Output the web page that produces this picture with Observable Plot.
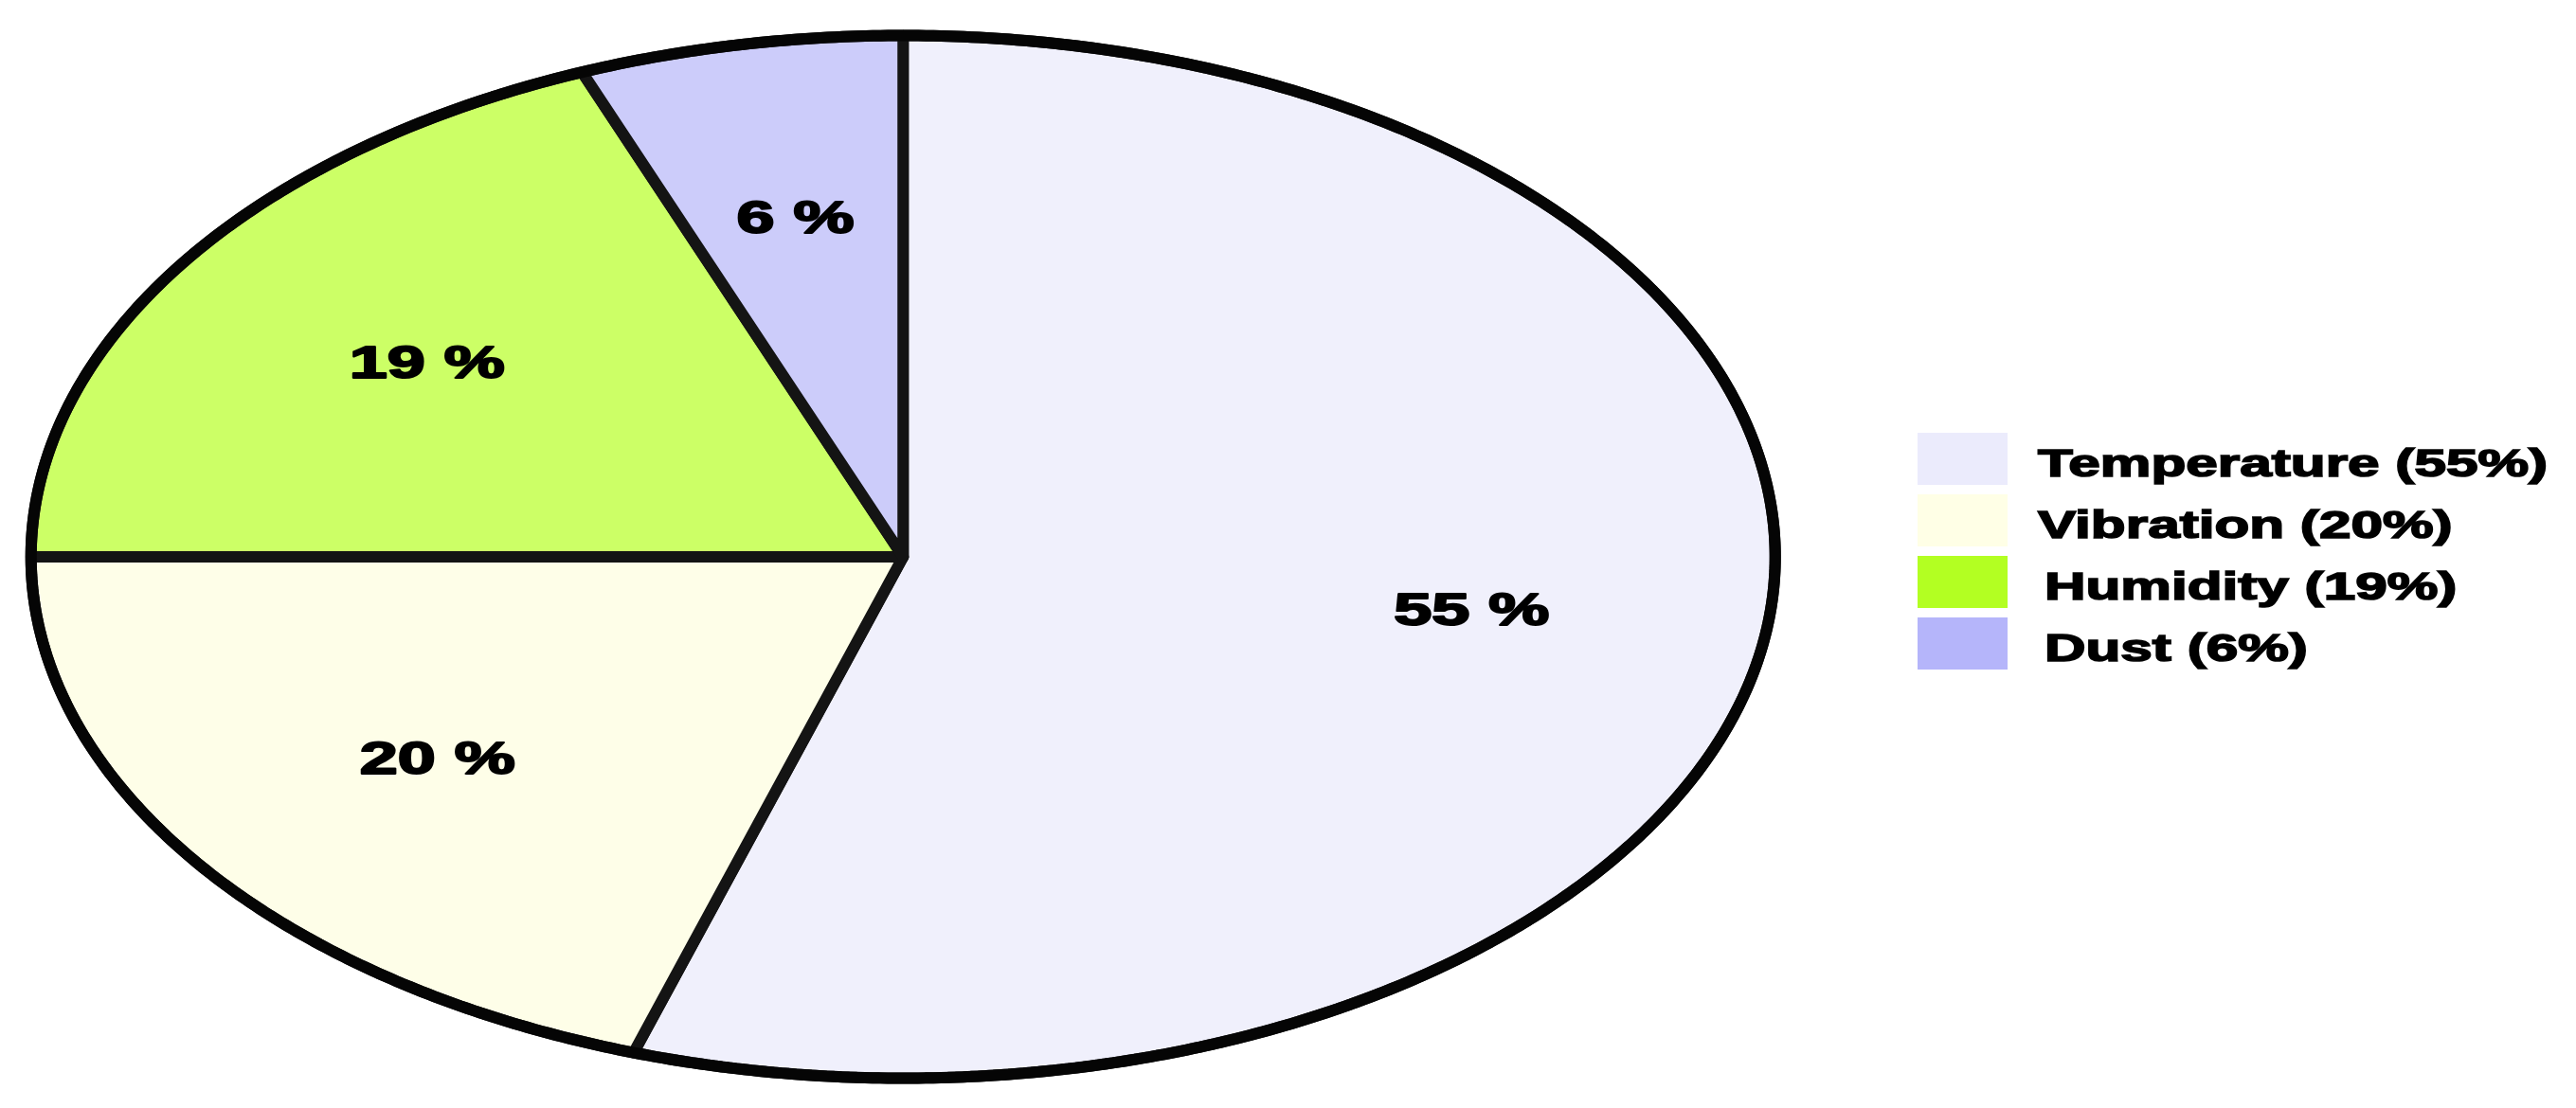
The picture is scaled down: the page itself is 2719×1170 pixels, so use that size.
<!DOCTYPE html>
<html>
<head>
<meta charset="utf-8">
<script src="https://cdn.jsdelivr.net/npm/d3@7"></script>
<script src="https://cdn.jsdelivr.net/npm/@observablehq/plot@0.6"></script>
<style>
  html, body { margin: 0; padding: 0; background: #ffffff; overflow: hidden; }
  #wrap { position: relative; width: 2719px; height: 1170px; }
  #chart svg { position: absolute; left: 0; top: 0; }
  #legend { position: absolute; left: 2024px; top: 457px; font-family: "Liberation Sans", Arial, sans-serif; }
  .row { position: relative; height: 65px; }
  .sw { position: absolute; left: 0; top: 0; width: 95px; height: 55px; }
  .lt { position: absolute; top: 5px; line-height: 55px; font-size: 41px; font-weight: bold; color: #000;
        white-space: nowrap; transform: scaleX(1.47); transform-origin: left center;
        -webkit-text-stroke: 1.6px #000; }
</style>
</head>
<body>
<div id="wrap">
  <div id="chart"></div>
  <div id="legend"></div>
</div>
<script>
// ---- data ----
const categories = ["Temperature", "Vibration", "Humidity", "Dust"];
const values = [55, 20, 19, 6];
const sliceLabels = ["55 %", "20 %", "19 %", "6 %"];
const legendLabels = ["Temperature (55%)", "Vibration (20%)", "Humidity (19%)", "Dust (6%)"];
const pieColors = ["#f0f0fc", "#fefee8", "#ccff66", "#ccccfa"];
const legendColors = ["#ebebfc", "#ffffe6", "#b3ff22", "#b5b5fa"];

// ---- layout ----
const W = 2719, H = 1170;
const textStretch = 1.5;            // horizontal stretch of the whole drawing
const W0 = W / textStretch;         // drawing coordinate width
const pieLeft = 32 / textStretch, pieRight = 1873 / textStretch;
const pieTop = 37, pieBottom = 1138;

// ---- build slices (angles clockwise from 12 o'clock) ----
const total = d3.sum(values);
let acc = 0;
const slices = values.map((v, i) => {
  const a0 = acc / total * 2 * Math.PI;
  acc += v;
  const a1 = acc / total * 2 * Math.PI;
  return {name: categories[i], value: v, a0, a1, color: pieColors[i], label: sliceLabels[i]};
});
function arcPoints(a0, a1, withCenter) {
  const n = Math.max(8, Math.ceil((a1 - a0) / (2 * Math.PI) * 720));
  const pts = [];
  if (withCenter) pts.push({x: 0, y: 0});
  for (let k = 0; k <= n; k++) {
    const a = a0 + (a1 - a0) * k / n;
    pts.push({x: Math.sin(a), y: Math.cos(a)});
  }
  if (withCenter) pts.push({x: 0, y: 0});
  return pts;
}
const labelR = 0.66;
const labelData = slices.map(s => {
  const m = (s.a0 + s.a1) / 2;
  return {x: labelR * Math.sin(m), y: labelR * Math.cos(m), text: s.label};
});

const marks = [];
slices.forEach(s => {
  marks.push(Plot.line(arcPoints(s.a0, s.a1, true), {
    x: "x", y: "y", fill: s.color, stroke: "#141414", strokeWidth: 12,
    strokeLinejoin: "miter", curve: "linear"
  }));
});
marks.push(Plot.line(arcPoints(0, 2 * Math.PI, false), {
  x: "x", y: "y", stroke: "#050505", strokeWidth: 12, fill: "none", curve: "linear"
}));
marks.push(Plot.text(labelData, {
  x: "x", y: "y", text: "text", fontSize: 48, fontWeight: "bold",
  fontFamily: "Liberation Sans, Arial, sans-serif", fill: "#000", stroke: "#000", strokeWidth: 2
}));

const svg = Plot.plot({
  width: W0, height: H,
  marginLeft: pieLeft, marginRight: W0 - pieRight,
  marginTop: pieTop, marginBottom: H - pieBottom,
  x: {domain: [-1, 1], axis: null},
  y: {domain: [-1, 1], axis: null},
  style: {background: "transparent"},
  marks
});
svg.setAttribute("viewBox", `0 0 ${W0} ${H}`);
svg.setAttribute("width", W);
svg.setAttribute("height", H);
svg.setAttribute("preserveAspectRatio", "none");
svg.style.width = W + "px";
svg.style.height = H + "px";
svg.style.maxWidth = "none";
svg.querySelectorAll("path").forEach(p => p.setAttribute("vector-effect", "non-scaling-stroke"));
document.getElementById("chart").appendChild(svg);

// ---- legend ----
const legend = d3.select("#legend");
const textLeft = [127, 127, 134, 134];
categories.forEach((c, i) => {
  const row = legend.append("div").attr("class", "row");
  row.append("div").attr("class", "sw").style("background", legendColors[i]);
  row.append("div").attr("class", "lt").style("left", textLeft[i] + "px").text(legendLabels[i]);
});
</script>
</body>
</html>
